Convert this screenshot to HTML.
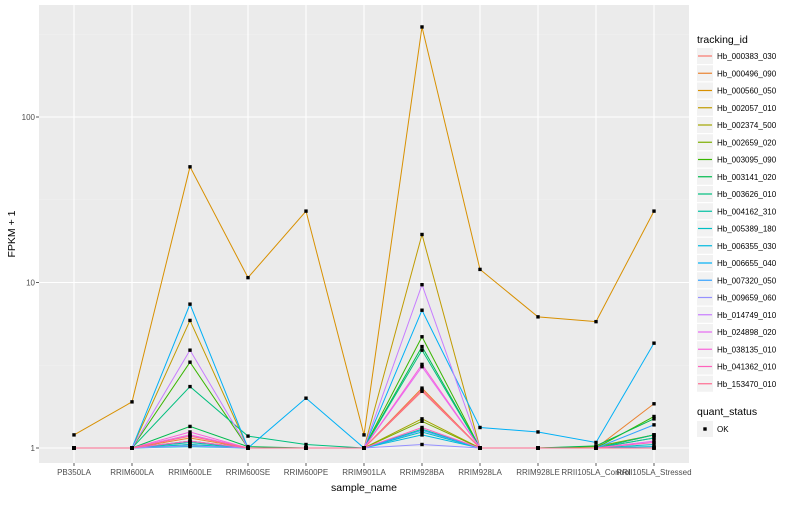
<!DOCTYPE html>
<html><head><meta charset="utf-8">
<style>
body{margin:0;background:#fff;font-family:"Liberation Sans",sans-serif;}
svg text{font-family:"Liberation Sans",sans-serif;}
</style></head>
<body>
<svg id="chart" width="800" height="500" viewBox="0 0 800 500">
<rect x="0" y="0" width="800" height="500" fill="#fff"/>
<rect id="panel" x="39" y="5" width="650" height="458" fill="#EBEBEB"/>
<g id="grid"></g>
<g id="lines"></g>
<g id="points"></g>
<g id="axes"></g>
<g id="legend"></g>
</svg>
<script>
const categories=["PB350LA","RRIM600LA","RRIM600LE","RRIM600SE","RRIM600PE","RRIM901LA","RRIM928BA","RRIM928LA","RRIM928LE","RRII105LA_Control","RRII105LA_Stressed"];
const seriesNames=["Hb_000383_030","Hb_000496_090","Hb_000560_050","Hb_002057_010","Hb_002374_500","Hb_002659_020","Hb_003095_090","Hb_003141_020","Hb_003626_010","Hb_004162_310","Hb_005389_180","Hb_006355_030","Hb_006655_040","Hb_007320_050","Hb_009659_060","Hb_014749_010","Hb_024898_020","Hb_038135_010","Hb_041362_010","Hb_153470_010"];
const seriesColors=["#F8766D","#EA8331","#D89000","#C09B00","#A3A500","#7CAE00","#39B600","#00BB4E","#00BF7D","#00C1A3","#00BFC4","#00BAE0","#00B0F6","#35A2FF","#9590FF","#C77CFF","#E76BF3","#FA62DB","#FF62BC","#FF6C91"];
const s0=[1,1,1.2,1,1,1,2.2,1,1,1,1];
const s1=[1,1,1.15,1,1,1,2.3,1,1,1,1.85];
const s2=[1.2,1.9,50,10.7,27,1.2,350,12,6.2,5.8,27];
const s3=[1,1,5.9,1,1,1,19.5,1,1,1,1.2];
const s4=[1,1,1.1,1,1,1,1.5,1,1,1,1.15];
const s5=[1,1,1.05,1,1,1,1.45,1,1,1.02,1.2];
const s6=[1,1,3.3,1,1,1,4.7,1,1,1,1.55];
const s7=[1,1,1.35,1.02,1,1,4.1,1,1,1.03,1.5];
const s8=[1,1,2.35,1.18,1.05,1,3.9,1,1,1,1.2];
const s9=[1,1,1.08,1,1,1,1.3,1,1,1,1.15];
const s10=[1,1,1.02,1,1,1,1.25,1,1,1,1.05];
const s11=[1,1,1.05,1,1,1,1.2,1,1,1,1.02];
const s12=[1,1,7.4,1,2.0,1,6.8,1.33,1.25,1.08,4.3];
const s13=[1,1,1.1,1,1,1,1.28,1,1,1,1.38];
const s14=[1,1,1.03,1,1,1,1.05,1,1,1,1];
const s15=[1,1,3.9,1,1,1,9.7,1,1,1,1];
const s16=[1,1,1.2,1,1,1,3.1,1,1,1,1.1];
const s17=[1,1,1.25,1,1,1,3.2,1,1,1,1];
const s18=[1,1,1.1,1,1,1,1.33,1,1,1,1.08];
const s19=[1,1,1.18,1,1,1,2.25,1,1,1,1];
const seriesValues=[s0,s1,s2,s3,s4,s5,s6,s7,s8,s9,s10,s11,s12,s13,s14,s15,s16,s17,s18,s19];
const yTickValues=[1,10,100];
const yTickLabels=["1","10","100"];

const NS="http://www.w3.org/2000/svg";
const X0=74,XSTEP=58,Y1=448,DEC=165.5;
function xScale(i){return X0+i*XSTEP;}
function yScale(v){return Y1-Math.log10(v)*DEC;}
function mk(tag,attrs,parent){const e=document.createElementNS(NS,tag);for(const k in attrs)e.setAttribute(k,attrs[k]);parent.appendChild(e);return e;}
const grid=document.getElementById('grid'),lines=document.getElementById('lines'),pts=document.getElementById('points'),axes=document.getElementById('axes'),leg=document.getElementById('legend');

[0.5,1.5,2.5].forEach(l=>{const g=mk('line',{x1:39,x2:689,y1:Y1-l*DEC,y2:Y1-l*DEC,stroke:'#F2F2F2','stroke-width':0.5},grid);

});
yTickValues.forEach((v,i)=>{const y=yScale(v);
const g=mk('line',{x1:39,x2:689,y1:y,y2:y,stroke:'#fff','stroke-width':1.1},grid);


const t=mk('text',{x:35,y:y+3,'text-anchor':'end','font-size':8,fill:'#4D4D4D'},axes);t.textContent=yTickLabels[i];


const tk=mk('line',{x1:36,x2:39,y1:y,y2:y,stroke:'#333','stroke-width':0.8},axes);

});
categories.forEach((c,i)=>{const x=xScale(i);
const g=mk('line',{x1:x,x2:x,y1:5,y2:463,stroke:'#fff','stroke-width':1.1},grid);


const tk=mk('line',{x1:x,x2:x,y1:463,y2:466,stroke:'#333','stroke-width':0.8},axes);


const t=mk('text',{x:x,y:475,'text-anchor':'middle','font-size':8,fill:'#4D4D4D'},axes);t.textContent=c;

});
const xt=mk('text',{x:364,y:491,'text-anchor':'middle','font-size':10.5,fill:'#000'},axes);xt.textContent='sample_name';


const yt=mk('text',{x:15,y:234,'text-anchor':'middle','font-size':10.5,fill:'#000',transform:'rotate(-90 15 234)'},axes);yt.textContent='FPKM + 1';



seriesValues.forEach((vals,si)=>{
const d=vals.map((v,i)=>(i?'L':'M')+xScale(i)+','+yScale(v)).join(' ');
const p=mk('path',{d:d,fill:'none',stroke:seriesColors[si],'stroke-width':1},lines);


vals.forEach((v,i)=>{const r=mk('rect',{x:xScale(i)-1.7,y:yScale(v)-1.7,width:3.4,height:3.4,fill:'#000'},pts);

});
});

const lt=mk('text',{x:697,y:43,'font-size':10.5,fill:'#000'},leg);lt.textContent='tracking_id';


seriesNames.forEach((n,i)=>{const y=48+i*17.25;
const g=mk('g',{},leg);


mk('rect',{x:697,y:y,width:16,height:16,fill:'#F2F2F2'},g);
mk('line',{x1:698,x2:712,y1:y+8,y2:y+8,stroke:seriesColors[i],'stroke-width':1.2},g);
const t=mk('text',{x:717,y:y+11,'font-size':8,fill:'#000'},g);t.textContent=n;});
const qt=mk('text',{x:697,y:415,'font-size':10.5,fill:'#000'},leg);qt.textContent='quant_status';


const qg=mk('g',{},leg);


mk('rect',{x:697,y:421,width:16,height:16,fill:'#F2F2F2'},qg);
mk('rect',{x:703.3,y:427.3,width:3.4,height:3.4,fill:'#000'},qg);
const ok=mk('text',{x:717,y:432,'font-size':8,fill:'#000'},qg);ok.textContent='OK';
</script>
</body></html>
